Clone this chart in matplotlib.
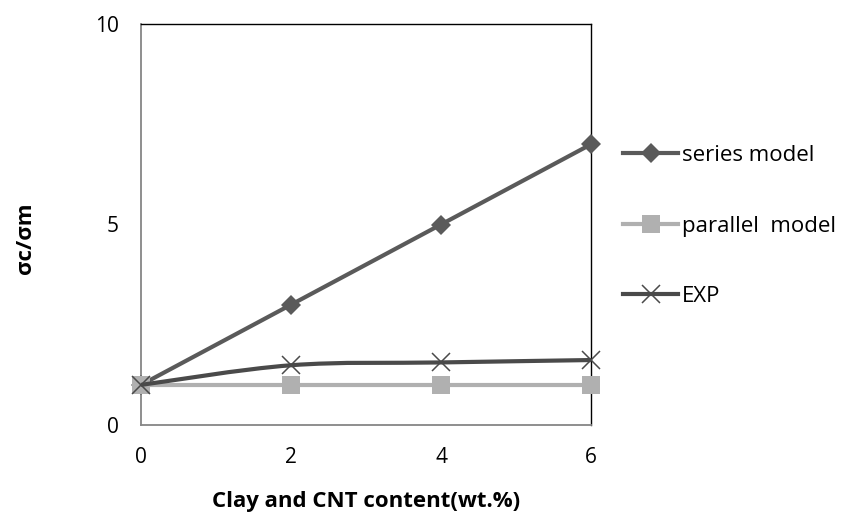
import matplotlib
matplotlib.use("Agg")
import matplotlib.pyplot as plt
from matplotlib.path import Path
from matplotlib.patches import PathPatch
from matplotlib.lines import Line2D
import numpy as np

plt.rcParams['font.family'] = ['Open Sans', 'DejaVu Sans']

content = [0, 2, 4, 6]
series_model = [1.0, 3.0, 5.0, 7.0]
parallel_model = [1.0, 1.0, 1.0, 1.0]
exp_values = [1.0, 1.49, 1.56, 1.62]

x_ticks = [0, 2, 4, 6]
y_ticks = [0, 5, 10]
labels = ['series model', 'parallel  model', 'EXP']

c_series = '#5A5A5A'
c_parallel = '#B0B0B0'
c_exp = '#4A4A4A'

W, H = 844, 519


def smooth_path(ax, xs, ys, tension=1/6):
    """Catmull-Rom style Bezier path through the points, in data coords."""
    pts = np.column_stack([xs, ys]).astype(float)
    disp = ax.transData.transform(pts)
    verts = [disp[0]]
    codes = [Path.MOVETO]
    n = len(disp)
    for i in range(n - 1):
        p0 = disp[i - 1] if i > 0 else disp[i]
        p1 = disp[i]
        p2 = disp[i + 1]
        p3 = disp[i + 2] if i + 2 < n else disp[i + 1]
        c1 = p1 + (p2 - p0) * tension
        c2 = p2 - (p3 - p1) * tension
        verts += [c1, c2, p2]
        codes += [Path.CURVE4] * 3
    verts = ax.transData.inverted().transform(np.array(verts))
    return Path(verts, codes)


fig = plt.figure(figsize=(W / 100, H / 100), dpi=100)
left, right, top, bottom = 141, 591, 24, 425
ax = fig.add_axes([left / W, 1 - bottom / H, (right - left) / W, (bottom - top) / H])
ax.set_xlim(0, 6)
ax.set_ylim(0, 10)

lw = 3.0
styles = [
    dict(color=c_series, marker='D', markersize=10.5, markeredgewidth=0),
    dict(color=c_parallel, marker='s', markersize=12.5, markeredgewidth=0),
    dict(color=c_exp, marker='x', markersize=13, markeredgewidth=1.1),
]

ax.plot(content, series_model, lw=lw, clip_on=False, zorder=3, **styles[0])
ax.plot(content, parallel_model, lw=lw, clip_on=False, zorder=4, **styles[1])

# experimental curve drawn smoothed, markers on the measured values
fig.canvas.draw()
patch = PathPatch(smooth_path(ax, content, exp_values), facecolor='none',
                  edgecolor=c_exp, lw=lw, zorder=5, clip_on=False)
ax.add_patch(patch)
ax.plot(content, exp_values, linestyle='none', clip_on=False, zorder=6,
        **styles[2])

ax.set_xticks(x_ticks)
ax.set_yticks(y_ticks)
ax.tick_params(length=0, labelsize=15, pad=16, colors='black')
for s in ('top', 'right'):
    ax.spines[s].set_color('black')
    ax.spines[s].set_linewidth(1.0)
for s in ('left', 'bottom'):
    ax.spines[s].set_color('#868686')
    ax.spines[s].set_linewidth(1.3)

fig.text(366 / W, 1 - 502 / H, 'Clay and CNT content(wt.%)', fontsize=16,
         fontweight='bold', ha='center', va='center')
fig.text(26 / W, 1 - 238 / H, 'σc/σm', fontsize=16, fontweight='bold',
         rotation=90, ha='center', va='center')

# legend entries to the right of the plot
entry_y = [153, 224, 294]
for lab, st, y in zip(labels, styles, entry_y):
    yf = 1 - y / H
    fig.add_artist(Line2D([623 / W, 678 / W], [yf, yf], lw=lw,
                          color=st['color'], transform=fig.transFigure))
    fig.add_artist(Line2D([650.5 / W], [yf], linestyle='none',
                          transform=fig.transFigure, **st))
    fig.text(682 / W, 1 - (y + 8) / H, lab, fontsize=16, ha='left',
             va='baseline')

fig.savefig('out.png', dpi=100)
